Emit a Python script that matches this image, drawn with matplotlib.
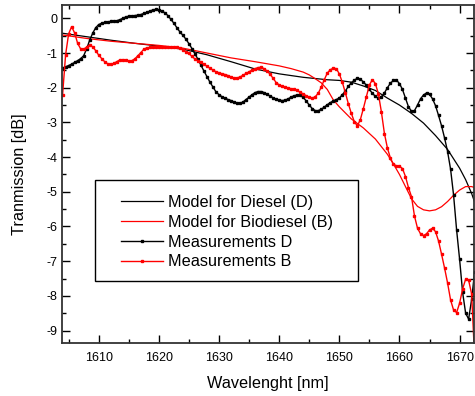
import numpy as np
import matplotlib
matplotlib.use("Agg")
import matplotlib.pyplot as plt
from matplotlib.patches import Rectangle
from matplotlib.ticker import MultipleLocator

plt.rcParams['font.family'] = ['Liberation Sans', 'DejaVu Sans']
plt.rcParams['axes.unicode_minus'] = False

# measurement grid (nm)
wl_start = 1604.0
wl_step = 0.5

# Measurements D (black)
meas_D = [
    -1.43, -1.40, -1.36, -1.32, -1.27, -1.22, -1.16, -1.08, -0.88, -0.63,
    -0.43, -0.27, -0.18, -0.14, -0.12, -0.10, -0.09, -0.08, -0.07, -0.04,
    0.00, 0.04, 0.06, 0.07, 0.08, 0.09, 0.11, 0.14, 0.17, 0.21,
    0.24, 0.26, 0.25, 0.21, 0.16, 0.08, -0.03, -0.14, -0.27, -0.39,
    -0.49, -0.60, -0.73, -0.87, -1.02, -1.18, -1.35, -1.52, -1.68, -1.84,
    -1.98, -2.12, -2.20, -2.26, -2.30, -2.34, -2.37, -2.41, -2.44, -2.45,
    -2.41, -2.34, -2.27, -2.20, -2.14, -2.11, -2.11, -2.14, -2.19, -2.24,
    -2.29, -2.33, -2.36, -2.37, -2.36, -2.32, -2.27, -2.23, -2.21, -2.22,
    -2.28, -2.38, -2.50, -2.60, -2.66, -2.66, -2.62, -2.56, -2.49, -2.43,
    -2.38, -2.34, -2.30, -2.20, -2.10, -1.96, -1.86, -1.78, -1.73, -1.76,
    -1.83, -1.93, -2.05, -2.16, -2.25, -2.30, -2.26, -2.15, -2.00, -1.87,
    -1.79, -1.78, -1.88, -2.05, -2.30, -2.55, -2.68, -2.66, -2.50, -2.32,
    -2.21, -2.15, -2.19, -2.32, -2.52, -2.80, -3.10, -3.45, -3.84, -4.35,
    -5.10, -6.10, -6.95, -7.90, -8.50, -8.67, -8.10, -7.30,
]

# Measurements B (red)
meas_B = [
    -2.20, -1.05, -0.45, -0.24, -0.42, -0.72, -0.88, -0.89, -0.83, -0.77,
    -0.82, -0.93, -1.06, -1.16, -1.25, -1.31, -1.33, -1.30, -1.25, -1.20,
    -1.19, -1.20, -1.23, -1.22, -1.17, -1.08, -0.99, -0.89, -0.85, -0.84,
    -0.84, -0.84, -0.84, -0.84, -0.83, -0.82, -0.82, -0.83, -0.84, -0.86,
    -0.91, -0.96, -1.01, -1.10, -1.17, -1.23, -1.27, -1.33, -1.38, -1.44,
    -1.49, -1.54, -1.57, -1.60, -1.62, -1.65, -1.69, -1.72, -1.72, -1.69,
    -1.64, -1.59, -1.54, -1.49, -1.45, -1.42, -1.41, -1.45, -1.52, -1.61,
    -1.73, -1.85, -1.92, -1.96, -1.98, -2.01, -2.03, -2.05, -2.08, -2.13,
    -2.18, -2.23, -2.28, -2.30, -2.26, -2.16, -1.98, -1.77, -1.58, -1.48,
    -1.44, -1.45, -1.60, -1.84, -2.14, -2.46, -2.74, -2.98, -3.10, -2.92,
    -2.60, -2.26, -1.92, -1.77, -1.88, -2.18, -2.70, -3.32, -3.74, -4.03,
    -4.21, -4.25, -4.26, -4.33, -4.56, -4.88, -5.14, -5.70, -6.05, -6.21,
    -6.26, -6.21, -6.10, -6.05, -6.15, -6.42, -6.80, -7.20, -7.63, -8.12,
    -8.41, -8.48, -8.21, -7.80, -7.52, -7.55, -7.95, -9.80,
]

# Model curves
model_D_wl = [1604, 1608, 1612, 1616, 1620, 1624, 1628, 1632, 1636, 1640,
              1644, 1648, 1650, 1652, 1654, 1656, 1658, 1660, 1662, 1664,
              1666, 1668, 1669, 1670, 1671, 1672, 1672.5]
model_D = [-0.43, -0.53, -0.63, -0.72, -0.80, -0.89, -1.05, -1.25, -1.46, -1.60,
           -1.70, -1.77, -1.79, -1.84, -1.95, -2.08, -2.30, -2.50, -2.74, -3.02,
           -3.38, -3.78, -4.05, -4.32, -4.65, -5.05, -5.30]

model_B_wl = [1604, 1608, 1612, 1616, 1620, 1624, 1628, 1632, 1636, 1640,
              1642, 1644, 1645, 1646, 1647, 1648, 1649, 1650, 1652, 1654,
              1656, 1658, 1659, 1660, 1661, 1662, 1663, 1664, 1665, 1666,
              1667, 1668, 1669, 1670, 1671, 1672, 1672.5]
model_B = [-0.48, -0.58, -0.66, -0.72, -0.78, -0.86, -1.00, -1.14, -1.25, -1.37,
           -1.45, -1.55, -1.63, -1.74, -1.86, -2.05, -2.35, -2.55, -2.90, -3.16,
           -3.48, -3.92, -4.20, -4.50, -4.85, -5.20, -5.42, -5.52, -5.55, -5.52,
           -5.43, -5.28, -5.10, -4.95, -4.85, -4.85, -4.88]

wl_D = wl_start + wl_step * np.arange(len(meas_D))
wl_B = wl_start + wl_step * np.arange(len(meas_B))

fig = plt.figure(figsize=(4.75, 3.96), dpi=100)
ax = fig.add_axes([0.1305, 0.1346, 0.8675, 0.8524])

ax.plot(model_D_wl, model_D, color='black', lw=0.9, label='Model for Diesel (D)')
ax.plot(model_B_wl, model_B, color='red', lw=0.9, label='Model for Biodiesel (B)')
ax.plot(wl_D, meas_D, color='black', lw=1.0, marker='s', ms=2.0,
        label='Measurements D')
ax.plot(wl_B, meas_B, color='red', lw=1.0, marker='s', ms=2.0,
        label='Measurements B')

ax.set_xlim(1603.9, 1672.4)
ax.set_ylim(-9.35, 0.38)
ax.xaxis.set_major_locator(MultipleLocator(10))
ax.xaxis.set_minor_locator(MultipleLocator(5))
ax.yaxis.set_major_locator(MultipleLocator(1))
ax.yaxis.set_minor_locator(MultipleLocator(0.5))
ax.tick_params(which='both', direction='in', top=True, right=True,
               labelsize=9, width=1)
ax.tick_params(which='major', length=6)
ax.tick_params(which='minor', length=3)
ax.tick_params(axis='x', pad=7)
for s in ax.spines.values():
    s.set_linewidth(1.3)
    s.set_color('#333333')

ax.set_xlabel('Wavelenght [nm]', fontsize=11.7, labelpad=8)
ax.set_ylabel('Tranmission [dB]', fontsize=11.7, labelpad=14)

# legend box
box = Rectangle((0.2, 0.2904), 0.5537, 0.255, transform=fig.transFigure,
                facecolor='white', edgecolor='black', lw=1.0,
                clip_on=False, zorder=5)
ax.add_patch(box)
leg = ax.legend(loc='upper left', bbox_to_anchor=(0.2547, 0.508),
                bbox_transform=fig.transFigure, fontsize=11.7,
                frameon=False, borderpad=0, handlelength=2.6,
                handletextpad=0.3, labelspacing=0.3, borderaxespad=0)
leg.set_zorder(6)

fig.savefig('out.png', dpi=100)
